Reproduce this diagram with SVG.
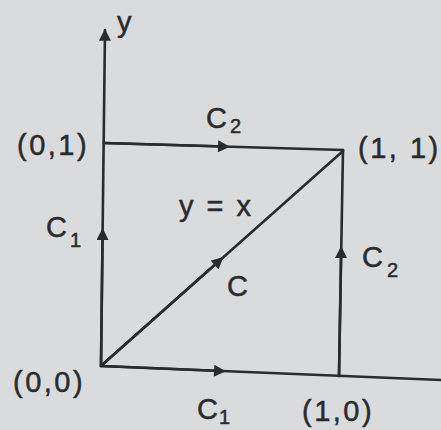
<svg xmlns="http://www.w3.org/2000/svg" width="441" height="430" viewBox="0 0 441 430">
<style>
.ln{stroke:#2b2b2d;stroke-width:2.6;fill:none;stroke-linecap:round}
.t{font-family:"Liberation Sans",Arial,sans-serif;font-size:29px;fill:#2b2b2d;stroke:#2b2b2d;stroke-width:0.5}
.c{letter-spacing:2.5px}
.s{font-size:20px}
</style>
<defs>
<marker id="ah" viewBox="0 0 10 10" refX="5" refY="5" markerWidth="5" markerHeight="4.6" orient="auto" markerUnits="strokeWidth">
<path d="M0,0 L10,5 L0,10 z" fill="#2b2b2d"/>
</marker>
<marker id="tip" viewBox="0 0 10 10" refX="9" refY="5" markerWidth="6" markerHeight="4.6" orient="auto" markerUnits="strokeWidth">
<path d="M0,0 L10,5 L0,10 z" fill="#2b2b2d"/>
</marker>
</defs>
<rect width="441" height="430" fill="#dadbdd"/>
<g id="connectors">
<path class="ln" d="M101,366 L105,30" marker-end="url(#tip)"/>
<path class="ln" d="M101,366 L102.6,234" marker-end="url(#ah)"/>
<path class="ln" d="M101,366 L441,380"/>
<path class="ln" d="M101,366 L220,371" marker-end="url(#ah)"/>
<path class="ln" d="M104,143 L343,150"/>
<path class="ln" d="M104,143 L224,146.5" marker-end="url(#ah)"/>
<path class="ln" d="M339,376 L343,150"/>
<path class="ln" d="M339,376 L341.1,252" marker-end="url(#ah)"/>
<path class="ln" d="M102,365 L343,151"/>
<path class="ln" d="M102,365 L219,261" marker-end="url(#ah)"/>
</g>
<g id="axis-y"><text class="t" x="117" y="32">y</text></g>
<g id="p01"><text class="t c" x="17" y="155">(0,1)</text></g>
<g id="p11"><text class="t c" x="358" y="158">(1, 1)</text></g>
<g id="p00"><text class="t c" x="13" y="392">(0,0)</text></g>
<g id="p10"><text class="t c" x="302" y="421">(1,0)</text></g>
<g id="c2top"><text class="t" x="206" y="128">C<tspan class="s" x="230" y="133">2</tspan></text></g>
<g id="c1left"><text class="t" x="46" y="237">C<tspan class="s" x="70" y="247">1</tspan></text></g>
<g id="c2right"><text class="t" x="362" y="267">C<tspan class="s" x="387" y="277">2</tspan></text></g>
<g id="c1bottom"><text class="t" x="197" y="419">C<tspan class="s" x="219" y="424">1</tspan></text></g>
<g id="yx"><text class="t c" x="179" y="216">y = x</text></g>
<g id="c"><text class="t" x="227" y="296">C</text></g>
</svg>
